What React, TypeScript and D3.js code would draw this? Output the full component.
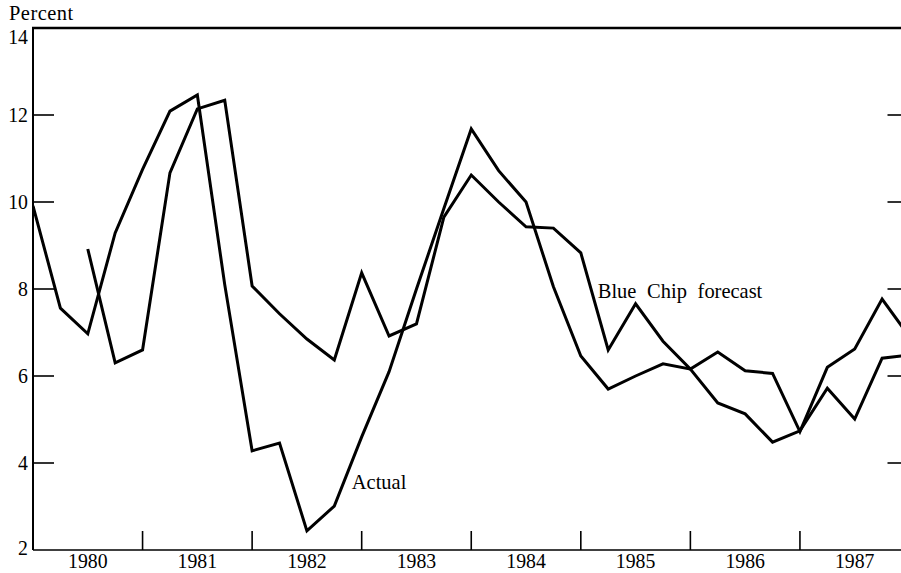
import React, { useEffect, useRef } from "react";
import * as d3 from "d3";

// quarterly observations, first quarter of 1980 onward
const startYear = 1980;
const actual = [
  9.91, 7.56, 6.97, 9.29, 10.75, 12.09, 12.46, 8.1, 4.28, 4.46, 2.44, 3.01,
  4.6, 6.1, 8.0, 9.85, 11.68, 10.72, 10.0, 8.05, 6.46, 5.7, 6.0, 6.28, 6.16,
  5.38, 5.13, 4.48, 4.74, 5.72, 5.01, 6.41, 6.48,
];
// forecast series begins in the third quarter of 1980
const forecastStart = 2;
const forecast = [
  8.92, 6.3, 6.6, 10.67, 12.14, 12.34, 8.07, 7.43, 6.85, 6.37, 8.37, 6.92,
  7.2, 9.65, 10.62, 10.0, 9.43, 9.4, 8.83, 6.6, 7.66, 6.8, 6.16, 6.55, 6.12,
  6.06, 4.72, 6.2, 6.62, 7.77, 6.9,
];
const years = [1980, 1981, 1982, 1983, 1984, 1985, 1986, 1987];
const yTicks = [2, 4, 6, 8, 10, 12, 14];

const W = 901;
const H = 573;
const FONT = "'Liberation Serif', 'Times New Roman', serif";

export default function App() {
  const ref = useRef<SVGSVGElement>(null);

  useEffect(() => {
    const svg = d3.select(ref.current);
    svg.selectAll("*").remove();

    const x = d3.scaleLinear().domain([1980, 1988]).range([33, 909.5]);
    const y = d3.scaleLinear().domain([2, 14]).range([550, 28]);

    const x0 = x(1980);
    const x1 = x(1988);

    // old typeset look: slightly condensed serif
    const label = (px: number, py: number, str: string, sx = 0.9) =>
      svg
        .append("text")
        .attr("transform", `translate(${px},${py}) scale(${sx},1)`)
        .style("font-family", FONT)
        .style("font-size", "22px")
        .text(str);

    svg
      .append("defs")
      .append("clipPath")
      .attr("id", "plot")
      .append("rect")
      .attr("x", x0)
      .attr("y", y(14) - 5)
      .attr("width", x1 - x0)
      .attr("height", y(2) - y(14) + 10);

    // frame: top border, left axis, bottom axis
    svg
      .append("line")
      .attr("x1", x0 - 1)
      .attr("x2", x1)
      .attr("y1", y(14))
      .attr("y2", y(14))
      .attr("stroke", "black")
      .attr("stroke-width", 2.5);
    svg
      .append("line")
      .attr("x1", x0)
      .attr("x2", x0)
      .attr("y1", y(14))
      .attr("y2", y(2))
      .attr("stroke", "black")
      .attr("stroke-width", 2);
    svg
      .append("line")
      .attr("x1", x0)
      .attr("x2", x1)
      .attr("y1", y(2))
      .attr("y2", y(2))
      .attr("stroke", "black")
      .attr("stroke-width", 1.6);

    // y ticks, both sides, pointing inward
    const inner = yTicks.filter(d => d > 2 && d < 14);
    svg
      .selectAll(".ytick-l")
      .data(inner)
      .enter()
      .append("line")
      .attr("x1", x0)
      .attr("x2", x0 + 21)
      .attr("y1", d => y(d))
      .attr("y2", d => y(d))
      .attr("stroke", "black")
      .attr("stroke-width", 1.6);
    svg
      .selectAll(".ytick-r")
      .data(inner)
      .enter()
      .append("line")
      .attr("x1", x1 - 22)
      .attr("x2", x1)
      .attr("y1", d => y(d))
      .attr("y2", d => y(d))
      .attr("stroke", "black")
      .attr("stroke-width", 1.6);

    yTicks.forEach(d => {
      label(28, y(d) + (d === 14 ? 9 : d === 2 ? -2 : 0), String(d))
        .attr("text-anchor", "end")
        .attr("dominant-baseline", "central");
    });

    label(9, 20, "Percent", 0.93).style("letter-spacing", "0.5px");

    // year dividers on the bottom axis
    svg
      .selectAll(".xtick")
      .data(years.slice(1))
      .enter()
      .append("line")
      .attr("x1", d => x(d))
      .attr("x2", d => x(d))
      .attr("y1", y(2))
      .attr("y2", y(2) - 19)
      .attr("stroke", "black")
      .attr("stroke-width", 1.6);

    years.forEach(d => {
      label(x(d + 0.5), 568, String(d)).attr("text-anchor", "middle");
    });

    // series
    const line = d3
      .line<[number, number]>()
      .x(d => x(d[0]))
      .y(d => y(d[1]));

    const actualPts: [number, number][] = actual.map((v, i) => [startYear + i / 4, v]);
    const forecastPts: [number, number][] = forecast.map((v, i) => [
      startYear + (i + forecastStart) / 4,
      v,
    ]);

    const g = svg.append("g").attr("clip-path", "url(#plot)");
    [actualPts, forecastPts].forEach(pts => {
      g.append("path")
        .attr("d", line(pts))
        .attr("fill", "none")
        .attr("stroke", "black")
        .attr("stroke-width", 3);
    });

    // annotations
    label(x(1982.91), y(3.4), "Actual", 0.93);
    label(x(1985.155), y(7.79), "Blue Chip forecast", 0.93).style("word-spacing", "6px");
  }, []);

  return (
    <svg
      ref={ref}
      width={W}
      height={H}
      style={{ position: "absolute", left: 0, top: 0, background: "white" }}
    />
  );
}
